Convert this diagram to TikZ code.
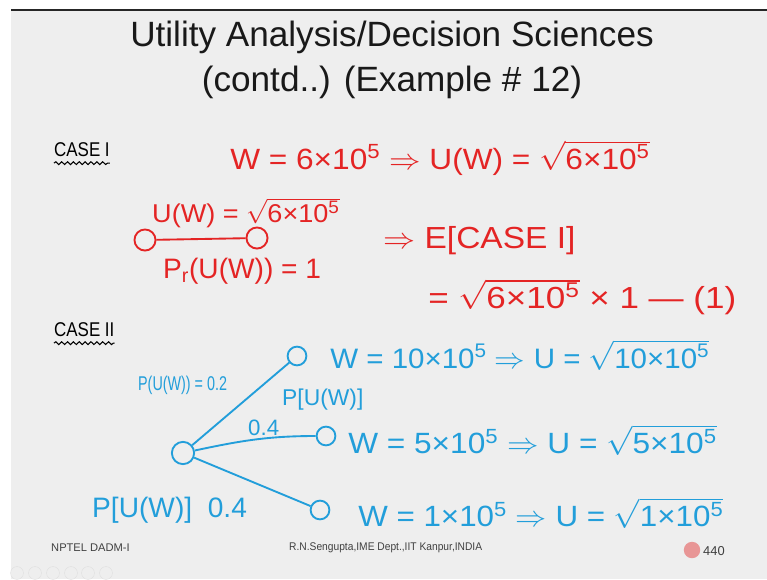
\documentclass[tikz,border=0pt]{standalone}
\usepackage{fontspec}
\setmainfont{Liberation Sans}
\usetikzlibrary{decorations.pathmorphing}
\definecolor{ink}{RGB}{228,36,36}
\definecolor{blu}{RGB}{34,158,218}
\definecolor{pinkc}{RGB}{232,150,150}
\definecolor{slide}{RGB}{238,238,238}
\newcommand{\tenp}[2]{#1×10\textsuperscript{#2}}
\newcommand{\rt}[1]{$\sqrt{\mbox{#1}}$}
\newcommand{\fs}[1]{\fontsize{#1}{#1}\selectfont}
\tikzset{
  hand/.style={inner sep=0pt, anchor=west},
  redt/.style={hand, text=ink},
  bluet/.style={hand, text=blu},
  blackt/.style={hand, text=black, font=\fs{17}, xscale=0.85},
  redc/.style={circle, draw=ink, line width=1.6pt, minimum size=18pt, inner sep=0pt},
  bluc/.style={circle, draw=blu, line width=1.6pt, minimum size=16pt, inner sep=0pt},
  rootc/.style={circle, draw=blu, line width=1.6pt, minimum size=19pt, inner sep=0pt},
  redl/.style={draw=ink, line width=1.6pt},
  blul/.style={draw=blu, line width=1.6pt},
  wavy/.style={draw=black, line width=0.9pt, decorate, decoration={snake, amplitude=1.2pt, segment length=5pt}},
  foot/.style={font=\fs{9.5}, text=black!75, inner sep=0pt},
  ttl/.style={font=\fs{30}, text=black!90, inner sep=0pt}
}
\begin{document}
\begin{tikzpicture}[x=0.03cm,y=-0.03cm]
\useasboundingbox[fill=white] (0,0) rectangle (767,579);
\fill[slide] (11,10) rectangle (767,579);
\draw[black!85, line width=1.5pt] (11,10) -- (767,10);
% title
\node[ttl] (t1) at (392,37) {Utility Analysis/Decision Sciences};
\node[ttl] (t2) at (392,82) {(contd..) (Example \# 12)};
% CASE I
\node[blackt] (case1) at (54,150) {CASE I};
\draw[wavy] ([yshift=-5pt]case1.south west) -- ([yshift=-5pt]case1.south east);
\node[redt, font=\fs{25}, xscale=1.08] (w6) at (230,158) {W = \tenp{6}{5} $\Rightarrow$ U(W) = \rt{\tenp{6}{5}}};
\node[redt, font=\fs{22}, xscale=1.05] (uw) at (152,213) {U(W) = \rt{\tenp{6}{5}}};
\node[redc] (a1) at (145,240) {};
\node[redc] (a2) at (257,238) {};
\draw[redl] (a1) -- (a2);
\node[redt, font=\fs{24}] (pr) at (163,271) {P\textsubscript{r}(U(W)) = 1};
\node[redt, font=\fs{26}, xscale=1.1] (ec) at (383,241) {$\Rightarrow$ E[CASE I]};
\node[redt, font=\fs{26}, xscale=1.15] (eq1) at (428,297) {= \rt{\tenp{6}{5}} × 1 — (1)};
% CASE II
\node[blackt] (case2) at (54,330) {CASE II};
\draw[wavy] ([yshift=-5pt]case2.south west) -- ([yshift=-5pt]case2.south east);
\node[rootc] (r) at (183,453) {};
\node[bluc] (b1) at (297,356) {};
\node[bluc] (b2) at (326,436) {};
\node[bluc] (b3) at (320,510) {};
\draw[blul] (r) -- (b1);
\draw[blul] (r) to[out=12,in=180] (b2);
\draw[blul] (r) -- (b3);
\node[bluet, font=\fs{24}, xscale=1.05] (l1) at (330,355) {W = \tenp{10}{5} $\Rightarrow$ U = \rt{\tenp{10}{5}}};
\node[bluet, font=\fs{25}, xscale=1.08] (l2) at (348,440) {W = \tenp{5}{5} $\Rightarrow$ U = \rt{\tenp{5}{5}}};
\node[bluet, font=\fs{25}, xscale=1.07] (l3) at (358,513) {W = \tenp{1}{5} $\Rightarrow$ U = \rt{\tenp{1}{5}}};
\node[bluet, font=\fs{17}, xscale=0.72] (p1) at (138,385) {P(U(W)) = 0.2};
\node[bluet, font=\fs{19.5}] (p2) at (282,400) {P[U(W)]};
\node[bluet, font=\fs{19}] (p3) at (248,428) {0.4};
\node[bluet, font=\fs{24}] (p4) at (92,510) {P[U(W)]\ \ 0.4};
% footer
\node[foot, anchor=west] (f1) at (51,548) {NPTEL DADM-I};
\node[foot, anchor=west, xscale=0.92] (f2) at (289,548) {R.N.Sengupta,IME Dept.,IIT Kanpur,INDIA};
\node[circle, fill=pinkc, minimum size=14pt, inner sep=0pt] (pg) at (692,550) {};
\node[foot, anchor=west, font=\fs{11}] (f3) at (703,551) {440};
% faint controls
\foreach \i/\xx in {0/17,1/35,2/53,3/71,4/88,5/106}{
  \node[circle, draw=black!12, minimum size=11pt, inner sep=0pt] (ic\i) at (\xx,573) {};
}
\end{tikzpicture}
\end{document}
